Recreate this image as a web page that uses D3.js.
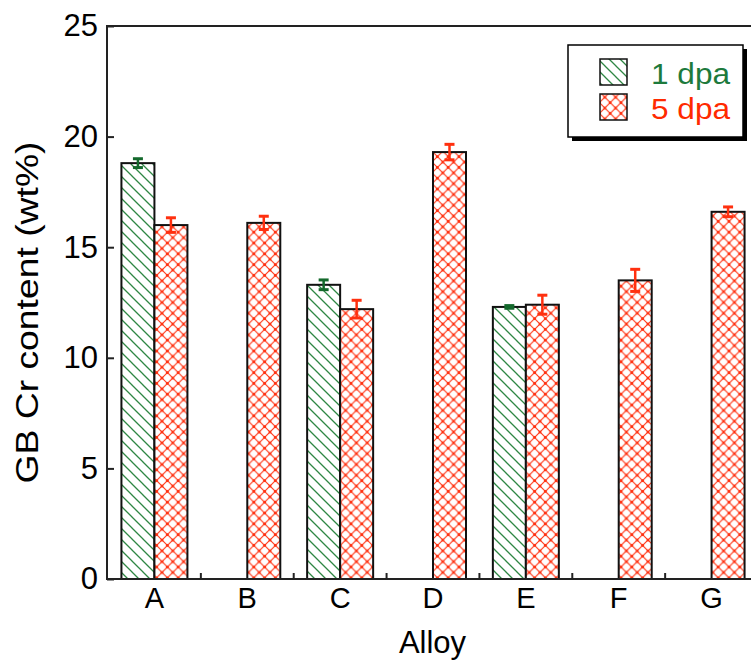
<!DOCTYPE html>
<html>
<head>
<meta charset="utf-8">
<script src="https://cdn.jsdelivr.net/npm/d3@7/dist/d3.min.js"></script>
<style>
  html, body { margin: 0; padding: 0; background: #fff; overflow: hidden; }
  text { font-family: Arial, "Liberation Sans", sans-serif; }
</style>
</head>
<body>
<svg id="chart" width="751" height="664"></svg>
<script>
// GB Cr content per alloy after 1 dpa and 5 dpa irradiation
const alloys = ["A", "B", "C", "D", "E", "F", "G"];
const seriesNames = ["1 dpa", "5 dpa"];
const dpa1Values = [18.8, null, 13.3, null, 12.3, null, null];
const dpa1Errors = [0.2, null, 0.22, null, 0.06, null, null];
const dpa5Values = [16.0, 16.1, 12.2, 19.3, 12.4, 13.5, 16.6];
const dpa5Errors = [0.33, 0.3, 0.4, 0.35, 0.43, 0.5, 0.22];
const yTicks = [0, 5, 10, 15, 20, 25];

const svg = d3.select("#chart");
const W = 751, H = 664;
const mLeft = 107, mTop = 26, mBottom = 579, mRight = 758;

svg.append("rect").attr("width", W).attr("height", H).attr("fill", "#fff");

const colors = {
  green: "#2f8744", greenDark: "#14692c", greenText: "#1d7a3c",
  red: "#ff300f", redText: "#ff2a00"
};

// hatch patterns
const defs = svg.append("defs");
const h1 = 11;
const p1 = defs.append("pattern").attr("id", "hatch1")
  .attr("patternUnits", "userSpaceOnUse").attr("width", h1).attr("height", h1);
p1.append("rect").attr("width", h1).attr("height", h1).attr("fill", "#fff");
p1.append("path").attr("d", `M-1,-1 L${h1 + 1},${h1 + 1} M-4,${h1 - 4} L4,${h1 + 4} M${h1 - 4},-4 L${h1 + 4},4`)
  .attr("stroke", colors.green).attr("stroke-width", 1.3);

const h2 = 10.8;
const p2 = defs.append("pattern").attr("id", "hatch2")
  .attr("patternUnits", "userSpaceOnUse").attr("width", h2).attr("height", h2);
p2.append("rect").attr("width", h2).attr("height", h2).attr("fill", "#fff");
p2.append("path").attr("d", `M0,0 L${h2},${h2} M0,${h2} L${h2},0`)
  .attr("stroke", colors.red).attr("stroke-width", 1.1);
[[0, 0], [h2, 0], [0, h2], [h2, h2], [h2 / 2, h2 / 2]].forEach(([cx, cy]) =>
  p2.append("circle").attr("cx", cx).attr("cy", cy).attr("r", 1.5).attr("fill", colors.red));

const x = d3.scaleBand().domain(alloys).range([mLeft + 1, mRight]).padding(0);
const y = d3.scaleLinear().domain([0, 25]).range([mBottom, mTop]);
const barW = 33;
const sub = d3.scaleBand().domain(seriesNames).range([-barW, barW]).padding(0);

const series = [
  { name: "1 dpa", values: dpa1Values, errors: dpa1Errors, fill: "url(#hatch1)", err: colors.greenDark },
  { name: "5 dpa", values: dpa5Values, errors: dpa5Errors, fill: "url(#hatch2)", err: colors.red }
];

const plot = svg.append("g");
series.forEach(s => {
  const data = alloys.map((a, i) => ({ a, v: s.values[i], e: s.errors[i] })).filter(d => d.v != null);
  const bx = d => x(d.a) + x.bandwidth() / 2 + sub(s.name);
  plot.selectAll(null).data(data).enter().append("rect")
    .attr("x", bx).attr("width", sub.bandwidth())
    .attr("y", d => y(d.v)).attr("height", d => y(0) - y(d.v))
    .attr("fill", s.fill).attr("stroke", "#111").attr("stroke-width", 2);
  const eg = plot.selectAll(null).data(data).enter().append("g")
    .attr("stroke", s.err).attr("stroke-width", 2.5);
  eg.append("line")
    .attr("x1", d => bx(d) + sub.bandwidth() / 2).attr("x2", d => bx(d) + sub.bandwidth() / 2)
    .attr("y1", d => y(d.v + d.e)).attr("y2", d => y(d.v - d.e));
  [1, -1].forEach(sign => {
    eg.append("line")
      .attr("x1", d => bx(d) + sub.bandwidth() / 2 - 5).attr("x2", d => bx(d) + sub.bandwidth() / 2 + 5)
      .attr("y1", d => y(d.v + sign * d.e)).attr("y2", d => y(d.v + sign * d.e))
      .attr("stroke-width", 3);
  });
});

// frame
const axisColor = "#222";
svg.append("path")
  .attr("d", `M${W + 5},${mTop} L${mLeft},${mTop} L${mLeft},${mBottom} L${W + 5},${mBottom}`)
  .attr("fill", "none").attr("stroke", axisColor).attr("stroke-width", 2);

// y axis, ticks pointing inward
const yAxis = d3.axisLeft(y).tickValues(yTicks).tickSize(0).tickPadding(8);
const yg = svg.append("g").attr("transform", `translate(${mLeft},0)`).call(yAxis);
yg.select(".domain").remove();
yg.selectAll("text").attr("font-size", 31).attr("fill", "#000").attr("dx", "-1");
yg.selectAll(".tick").append("line").attr("x1", 0).attr("x2", 7).attr("stroke", axisColor).attr("stroke-width", 2);

// x axis: category labels, ticks between categories pointing inward
const xAxis = d3.axisBottom(x).tickSize(0).tickPadding(8);
const xg = svg.append("g").attr("transform", `translate(0,${mBottom})`).call(xAxis);
xg.select(".domain").remove();
xg.selectAll("text").attr("font-size", 29).attr("fill", "#000");
const boundaries = alloys.slice(1).map(a => x(a));
svg.selectAll(null).data(boundaries).enter().append("line")
  .attr("x1", d => d).attr("x2", d => d).attr("y1", mBottom).attr("y2", mBottom - 6)
  .attr("stroke", axisColor).attr("stroke-width", 2);

// axis titles
svg.append("text").attr("x", (mLeft + mRight) / 2).attr("y", 653)
  .attr("text-anchor", "middle").attr("font-size", 31).text("Alloy");
svg.append("text").attr("transform", `translate(38,${(mTop + mBottom) / 2 + 10}) rotate(-90)`)
  .attr("text-anchor", "middle").attr("font-size", 31)
  .attr("textLength", 342).attr("lengthAdjust", "spacingAndGlyphs")
  .text("GB Cr content (wt%)");

// legend
const lg = svg.append("g");
lg.append("rect").attr("x", 572).attr("y", 49).attr("width", 175).attr("height", 92).attr("fill", "#000");
lg.append("rect").attr("x", 568).attr("y", 45).attr("width", 175).attr("height", 92)
  .attr("fill", "#fff").attr("stroke", "#000").attr("stroke-width", 1.5);
const legendItems = [
  { name: seriesNames[0], fill: "url(#hatch1)", color: colors.greenText, y: 59 },
  { name: seriesNames[1], fill: "url(#hatch2)", color: colors.redText, y: 94 }
];
legendItems.forEach(it => {
  lg.append("rect").attr("x", 600).attr("y", it.y).attr("width", 27).attr("height", 26)
    .attr("fill", it.fill).attr("stroke", "#111").attr("stroke-width", 1.5);
  lg.append("text").attr("x", 651).attr("y", it.y + 25).attr("font-size", 29)
    .attr("textLength", 79).attr("lengthAdjust", "spacingAndGlyphs")
    .attr("fill", it.color).text(it.name);
});
</script>
</body>
</html>
